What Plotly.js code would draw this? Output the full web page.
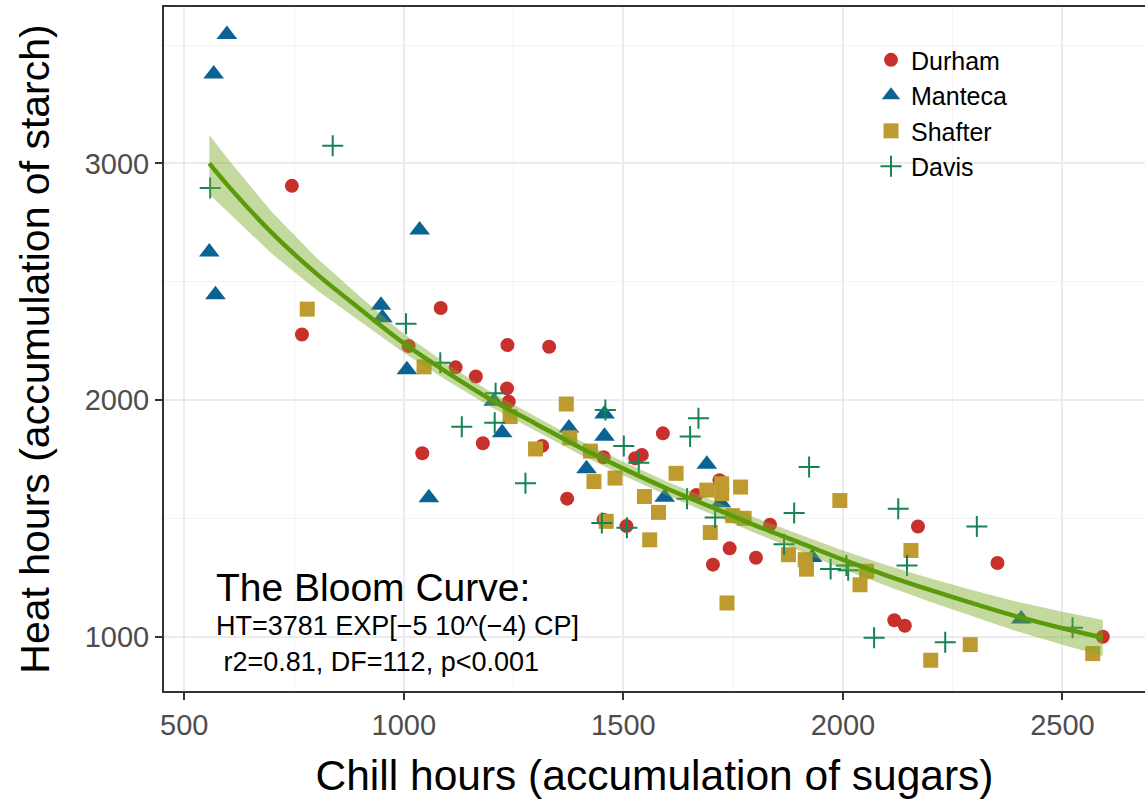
<!DOCTYPE html>
<html>
<head>
<meta charset="utf-8">
<script src="https://cdn.plot.ly/plotly-3.0.1.min.js"></script>
<style>html,body{margin:0;padding:0;background:#fff;}#chart{width:1145px;height:803px;}</style>
</head>
<body>
<div id="chart"></div>
<script>
// ---- Data ----
const durhamX = [745, 768, 1011, 1084, 1118, 1164, 1042, 1180, 1236, 1331, 1235, 1239, 1315, 1455, 1527, 1542, 1590, 1372, 1455, 1507, 1666, 1719, 1834, 1742, 1704, 1802, 2171, 2352, 2117, 2141, 2592];
const durhamY = [2905, 2277, 2228, 2389, 2138, 2099, 1775, 1817, 2232, 2225, 2049, 1993, 1806, 1758, 1754, 1768, 1859, 1583, 1494, 1467, 1598, 1661, 1473, 1373, 1304, 1333, 1465, 1311, 1069, 1046, 999];

const mantecaX = [597, 567, 557, 571, 1036, 948, 951, 1007, 1057, 1205, 1224, 1376, 1457, 1457, 1416, 1594, 1690, 1722, 1930, 2406];
const mantecaY = [3545, 3378, 2625, 2445, 2718, 2400, 2348, 2128, 1587, 1995, 1861, 1882, 1941, 1847, 1709, 1589, 1728, 1566, 1334, 1074];

const shafterX = [780, 1046, 1242, 1370, 1378, 1300, 1425, 1433, 1481, 1620, 1548, 1580, 1461, 1560, 1690, 1724, 1724, 1767, 1749, 1775, 1698, 1736, 1876, 1914, 1917, 1993, 2155, 2054, 2039, 2200, 2290, 2569];
const shafterY = [2384, 2140, 1930, 1983, 1840, 1793, 1784, 1655, 1670, 1690, 1592, 1525, 1487, 1409, 1619, 1646, 1604, 1632, 1511, 1500, 1440, 1142, 1346, 1325, 1285, 1575, 1364, 1276, 1219, 900, 966, 928];

const davisX = [559, 838, 1005, 1083, 1132, 1209, 1207, 1277, 1459, 1501, 1535, 1671, 1652, 1645, 1451, 1508, 1709, 1889, 1866, 1923, 1972, 2008, 2012, 2126, 2146, 2305, 2071, 2233, 2523];
const davisY = [2896, 3075, 2322, 2157, 1887, 2028, 1904, 1648, 1958, 1805, 1735, 1923, 1846, 1583, 1480, 1460, 1503, 1522, 1390, 1717, 1286, 1300, 1280, 1540, 1300, 1465, 995, 976, 1037];

// Fitted bloom curve and its confidence band
const curveX = [557, 600, 700, 800, 900, 1000, 1100, 1200, 1300, 1400, 1500, 1600, 1700, 1800, 1900, 2000, 2100, 2200, 2300, 2400, 2500, 2592];
const curveY = [3000, 2905, 2705, 2535, 2385, 2240, 2115, 2000, 1900, 1800, 1710, 1625, 1548, 1470, 1398, 1325, 1258, 1196, 1138, 1083, 1035, 995];
const bandUpper = [3120, 3017, 2793, 2603, 2437, 2280, 2150, 2032, 1930, 1829, 1739, 1654, 1578, 1502, 1433, 1364, 1302, 1246, 1194, 1146, 1105, 1070];
const bandLower = [2870, 2793, 2617, 2467, 2333, 2200, 2080, 1968, 1870, 1771, 1681, 1596, 1518, 1438, 1363, 1286, 1214, 1146, 1082, 1020, 965, 918];

const xTicks = [500, 1000, 1500, 2000, 2500];
const yTicks = [1000, 2000, 3000];
const annoLines = ["The Bloom Curve:", "HT=3781 EXP[\u22125 10^(\u22124) CP]", " r2=0.81, DF=112, p<0.001"];

// ---- Build traces ----
const font = "Liberation Sans, Arial, sans-serif";
const traces = [
  {x: durhamX, y: durhamY, type: 'scatter', mode: 'markers', name: 'Durham',
   marker: {symbol: 'circle', size: 14, color: '#C8302C'}},
  {x: mantecaX, y: mantecaY, type: 'scatter', mode: 'markers', name: 'Manteca',
   marker: {symbol: 'triangle-up', size: 18, color: '#0B6394'}},
  {x: shafterX, y: shafterY, type: 'scatter', mode: 'markers', name: 'Shafter',
   marker: {symbol: 'square', size: 15, color: '#BF9A2E'}},
  {x: davisX, y: davisY, type: 'scatter', mode: 'markers', name: 'Davis',
   marker: {symbol: 'cross-thin', size: 15, color: '#128553', line: {color: '#128553', width: 2}}},
  {x: curveX.concat(curveX.slice().reverse()), y: bandUpper.concat(bandLower.slice().reverse()),
   type: 'scatter', mode: 'lines', fill: 'toself', fillcolor: 'rgba(122,170,40,0.45)',
   line: {width: 0, color: 'rgba(0,0,0,0)'}, showlegend: false, hoverinfo: 'skip'},
  {x: curveX, y: curveY, type: 'scatter', mode: 'lines', line: {color: '#5B9A0B', width: 4.5, shape: 'spline'},
   showlegend: false}
];

const annY = [1208, 1043, 892];
const annSize = [39, 27, 27];
const annotations = annoLines.map((t, i) => ({
  x: 568, y: annY[i], xref: 'x', yref: 'y', xanchor: 'left', yanchor: 'middle',
  text: t, showarrow: false, font: {family: font, size: annSize[i], color: '#000'}
}));

const layout = {
  width: 1145, height: 803,
  margin: {l: 164, r: 0, t: 7, b: 112, pad: 0},
  paper_bgcolor: '#fff', plot_bgcolor: '#fff',
  font: {family: font},
  showlegend: true,
  legend: {x: 0.7207, y: 0.956, xanchor: 'left', yanchor: 'top', bgcolor: 'rgba(0,0,0,0)',
           font: {family: font, size: 25, color: '#000'}, itemsizing: 'trace'},
  xaxis: {
    range: [453.8, 2688], tickvals: xTicks, ticktext: xTicks.map(String),
    showgrid: true, gridcolor: '#EBEBEB', gridwidth: 2,
    minor: {dtick: 250, tick0: 500, showgrid: true, gridcolor: '#F3F3F3', gridwidth: 1, ticks: ''},
    showline: true, linecolor: '#333333', linewidth: 2, mirror: true,
    ticks: 'outside', ticklen: 7, tickwidth: 2, tickcolor: '#333333',
    tickfont: {family: font, size: 29, color: '#4D4D4D'}, zeroline: false,
    title: {text: 'Chill hours (accumulation of sugars)', font: {family: font, size: 42.5, color: '#000'}, standoff: 20}
  },
  yaxis: {
    range: [770, 3661], tickvals: yTicks, ticktext: yTicks.map(String),
    showgrid: true, gridcolor: '#EBEBEB', gridwidth: 2,
    minor: {dtick: 500, tick0: 500, showgrid: true, gridcolor: '#F3F3F3', gridwidth: 1, ticks: ''},
    showline: true, linecolor: '#333333', linewidth: 2, mirror: false,
    ticks: 'outside', ticklen: 7, tickwidth: 2, tickcolor: '#333333',
    tickfont: {family: font, size: 29, color: '#4D4D4D'}, zeroline: false,
    title: {text: 'Heat hours (accumulation of starch)', font: {family: font, size: 41, color: '#000'}, standoff: 22}
  },
  annotations: annotations
};

Plotly.newPlot('chart', traces, layout, {staticPlot: true, displayModeBar: false});
</script>
</body>
</html>
